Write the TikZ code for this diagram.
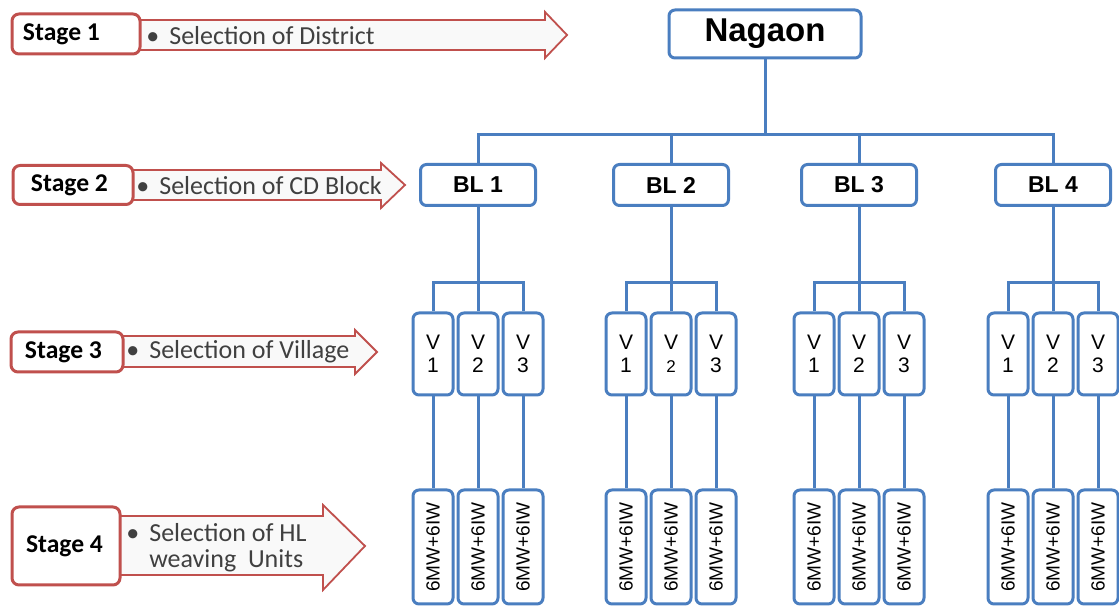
\documentclass[tikz,border=0pt]{standalone}
\usepackage{fontspec}
\setmainfont{Liberation Sans}
\newfontfamily\calibri{Carlito}
\usetikzlibrary{positioning,calc}
\definecolor{lineblue}{HTML}{4A7EC0}
\definecolor{stagered}{HTML}{C0504D}
\definecolor{stagetext}{HTML}{404040}

\begin{document}
\begin{tikzpicture}[x=0.5pt,y=-0.5pt,
  tbox/.style={draw=lineblue,line width=1.5pt,rounded corners=3pt,fill=white,inner sep=0pt,align=center},
  stagebox/.style={draw=stagered,line width=1.5pt,rounded corners=3.5pt,fill=white,inner ysep=0pt,
    align=flush left,font=\calibri\bfseries\fontsize{12.8}{14}\selectfont},
  stagearrow/.style={draw=stagered,line width=0.9pt,fill=gray!5,line join=miter},
  stagelabel/.style={anchor=west,inner sep=0pt,text=stagetext,align=left,
    font=\calibri\fontsize{13}{14}\selectfont},
  link/.style={lineblue,line width=1.5pt}]
\path[fill=white,use as bounding box] (0,0) rectangle (1119,608);

% stage arrows on the left
\draw[stagearrow] (130,20)--(545,20)--(545,12)--(567,35)--(545,58)--(545,50)--(130,50)--cycle;
\draw[stagearrow] (125,170)--(381,170)--(381,163)--(405,185)--(381,208)--(381,200)--(125,200)--cycle;
\draw[stagearrow] (115,336)--(355,336)--(355,330)--(377,352)--(355,374)--(355,367)--(115,367)--cycle;
\draw[stagearrow] (115,516)--(323,516)--(323,505)--(365,546)--(323,590)--(323,575)--(115,575)--cycle;
\node[stagebox,inner xsep=5.5pt,text width=53pt,minimum height=20pt] (st1) at (76,34) {Stage 1};
\node[stagebox,inner xsep=9pt,text width=42pt,minimum height=19.5pt] (st2) at (73,185) {Stage 2};
\node[stagebox,inner xsep=7pt,text width=42pt,minimum height=20pt] (st3) at (67,352) {Stage 3};
\node[stagebox,inner xsep=7pt,text width=40pt,minimum height=39pt] (st4) at (66,546) {Stage 4};
\node[stagelabel] (sel1) at (146,36) {\textbullet\hspace{5pt}Selection of District};
\node[stagelabel] (sel2) at (136,186) {\textbullet\hspace{5pt}Selection of CD Block};
\node[stagelabel] (sel3) at (126,352) {\textbullet\hspace{5pt}Selection of Village};
\node[stagelabel,anchor=north west] (sel4) at (126,522) {\textbullet\hspace{5pt}\begin{tabular}[t]{@{}l@{}}Selection of HL\\[-1pt]weaving~~Units\end{tabular}};

% district and blocks
\node[tbox,minimum width=96pt,minimum height=24pt,font=\bfseries\fontsize{16.5}{18}\selectfont] (nag) at (765,34) {Nagaon};
\coordinate (hub) at (765,135);
\draw[link] (nag.south) -- (hub);
\foreach \g/\gx in {1/478,2/671,3/859,4/1053}{
  \node[tbox,minimum width=57.5pt,minimum height=20.5pt,font=\bfseries\fontsize{11.5}{13}\selectfont] (bl\g) at (\gx,185) {BL \g};
  \draw[link] (bl\g.north) |- (hub);
  \coordinate (vh\g) at (\gx,283);
  \draw[link] (bl\g.south) -- (vh\g);
  \foreach \j/\dx in {1/-45,2/0,3/45}{
    \ifnum\g=2 \ifnum\j=2 \def\vnum{{\fontsize{8.5}{9}\selectfont 2}}\else\def\vnum{\j}\fi\else\def\vnum{\j}\fi
    \node[tbox,minimum width=20pt,minimum height=41pt,font=\fontsize{10.5}{11.5}\selectfont] (v\g-\j) at (\gx+\dx,354) {V\\\vnum};
    \node[tbox,minimum width=20pt,minimum height=57pt,font=\fontsize{9.5}{11}\selectfont] (w\g-\j) at (\gx+\dx,547) {\rotatebox{90}{6MW+6IW}};
    \draw[link] (v\g-\j.north) |- (vh\g);
    \draw[link] (v\g-\j.south) -- (w\g-\j.north);
  }
}
\end{tikzpicture}
\end{document}
